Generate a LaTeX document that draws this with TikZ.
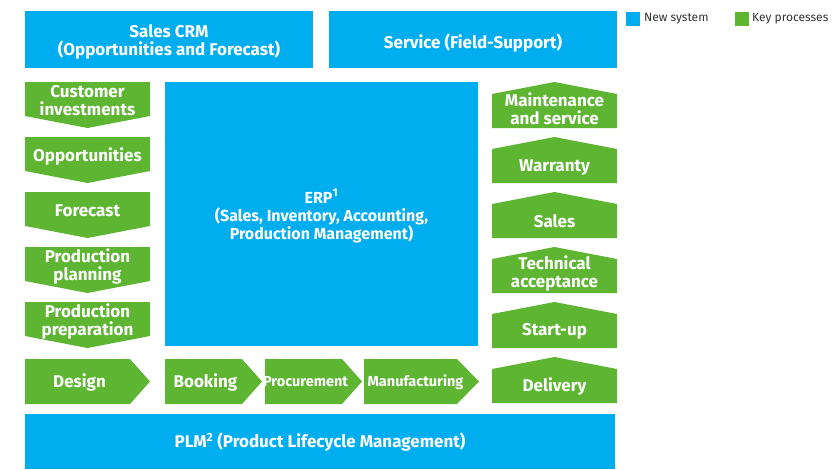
\documentclass[tikz,border=0pt]{standalone}
\usepackage{fontspec}
\setmainfont{Fira Sans}
\definecolor{sysblue}{HTML}{00ADEF}
\definecolor{procgreen}{HTML}{5DB532}
\definecolor{legtext}{HTML}{333333}
\tikzset{
  sysbox/.style={fill=sysblue},
  procfill/.style={fill=procgreen},
  lbl/.style={text=white, font=\bfseries\fontsize{17}{18}\selectfont, align=center, inner sep=0pt},
  hdr/.style={text=white, font=\bfseries\fontsize{17}{18}\selectfont, align=center, inner sep=0pt},
  erplbl/.style={text=white, font=\bfseries\fontsize{16}{18}\selectfont, align=center, inner sep=0pt},
  smalllbl/.style={text=white, font=\bfseries\fontsize{14.5}{16}\selectfont, align=center, inner sep=0pt},
  legtxt/.style={text=legtext, font=\fontsize{12}{14}\selectfont, anchor=west, inner sep=0pt}
}
\newcommand\dnbox[3]{%
  \fill[procfill] (25,#1) -- (150,#1) -- (150,#1+34) -- (87.5,#1+46) -- (25,#1+34) -- cycle;
  \node[lbl] (#2) at (87.5,#1+19) {#3};}
\newcommand\upbox[4]{%
  \fill[procfill] (554.5,#1) -- (617,#1+12) -- (617,#1+46) -- (492,#1+46) -- (492,#1+12) -- cycle;
  \node[lbl] (#2) at (554.5,#1+#4) {#3};}
\newcommand\rtbox[7]{%
  \fill[procfill] (#1,359) -- (#2,359) -- (#3,381.5) -- (#2,404) -- (#1,404) -- cycle;
  \node[#6] (#4) at ({(#1+#2)/2+#7},382) {#5};}
\begin{document}
\begin{tikzpicture}[x=1pt,y=-1pt]
\useasboundingbox (0,0) rectangle (838,469);
% systems
\fill[sysbox] (25,11) rectangle (313,68);
\node[hdr] (crm) at (169,41.5) {Sales CRM\\(Opportunities and Forecast)};
\fill[sysbox] (329,11) rectangle (617,68);
\node[hdr] (svc) at (473,43) {Service (Field-Support)};
\fill[sysbox] (165,82) rectangle (478,346);
\node[erplbl] (erp) at (321.5,216) {ERP\textsuperscript{1}\\(Sales, Inventory, Accounting,\\Production Management)};
\fill[sysbox] (25,414) rectangle (615,469);
\node[hdr] (plm) at (320,442) {PLM\textsuperscript{2} (Product Lifecycle Management)};
% legend
\fill[sysbox] (626,12) rectangle (640,26);
\node[legtxt] (lnew) at (644,19) {New system};
\fill[procfill] (735,12) rectangle (749,26);
\node[legtxt] (lkey) at (752,19) {Key processes};
% left column
\dnbox{82}{custinv}{Customer\\investments}
\dnbox{137}{opp}{Opportunities}
\dnbox{192}{fcst}{Forecast}
\dnbox{247}{pplan}{Production\\planning}
\dnbox{302}{pprep}{Production\\preparation}
% right column
\upbox{82}{maint}{Maintenance\\and service}{26.5}
\upbox{137}{warr}{Warranty}{30}
\upbox{192}{sales}{Sales}{29.5}
\upbox{247}{techacc}{Technical\\acceptance}{26.5}
\upbox{302}{startup}{Start-up}{29}
\upbox{357}{deliv}{Delivery}{29}
% bottom row
\rtbox{25}{130}{150}{design}{Design}{lbl}{2}
\rtbox{165}{242}{262}{booking}{Booking}{lbl}{2}
\rtbox{265}{342}{362}{procure}{Procurement}{smalllbl}{2}
\rtbox{364}{457}{479}{manuf}{Manufacturing}{smalllbl}{5}
\end{tikzpicture}
\end{document}
